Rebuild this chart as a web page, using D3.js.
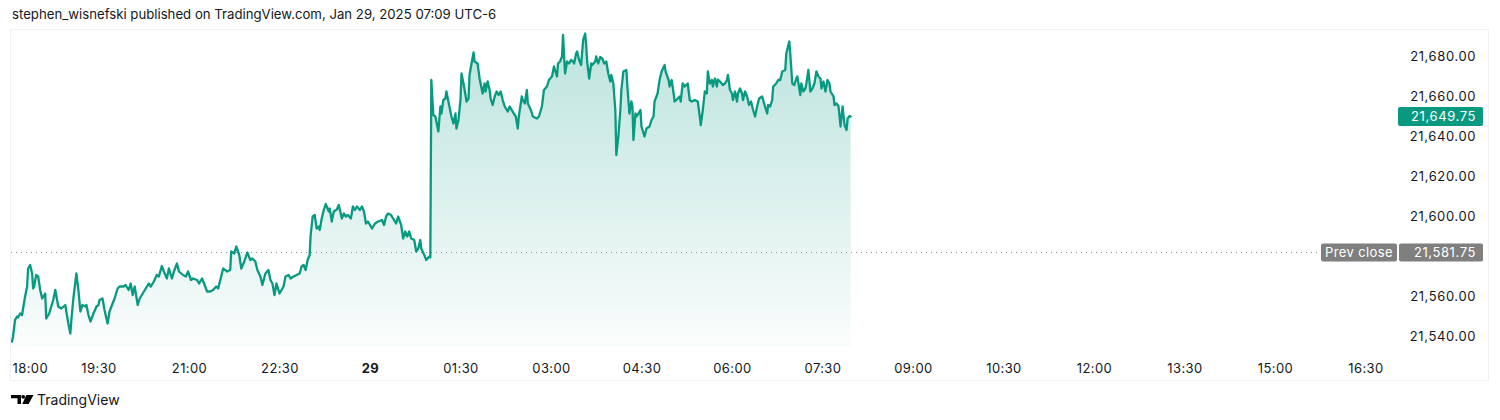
<!DOCTYPE html>
<html>
<head>
<meta charset="utf-8">
<script src="https://cdn.jsdelivr.net/npm/d3@7/dist/d3.min.js"></script>
<style>
  html, body { margin: 0; padding: 0; background: #ffffff; }
  svg { display: block; }
  text { font-family: Inter, "Noto Sans", "Liberation Sans", sans-serif; }
</style>
</head>
<body>
<svg id="chart" width="1500" height="420"></svg>
<script>
// ---- data (minutes after 18:00 session open, price) ----
const minutes = [4,5,7,9,10,12,14,15,17,19,20,22,24,25,26,28,30,32,34,37,38,41,43,45,47,50,53,57,58,60,62,63,65,68,70,72,74,77,78,80,82,85,88,90,91,94,96,99,101,104,106,109,111,115,117,120,122,124,126,129,131,134,137,140,142,145,148,150,153,155,158,160,163,165,168,170,174,177,179,182,184,188,190,193,195,198,201,204,207,209,
212,214,218,221,222,225,227,230,232,235,238,241,243,246,248,251,253,256,259,261,263,265,267,270,272,274,276,279,281,284,287,290,292,294,296,298,300,301,303,305,307,309,310,312,314,316,319,320,322,324,327,329,332,334,336,338,341,343,345,347,350,352,354,356,358,362,365,368,372,374,376,378,381,383,386,388,391,393,395,397,399,401,404,406,408,410,411,414,416,419,420,
421,423,425,428,430,431,433,435,436,439,441,443,445,446,448,450,451,453,455,456,458,459,461,463,464,467,469,470,472,474,475,477,479,480,482,484,486,488,490,492,494,497,499,501,503,505,507,508,511,512,514,516,517,520,522,526,528,531,533,536,538,541,543,544,546,547,549,551,552,554,556,558,560,562,563,565,566,568,570,572,574,575,576,578,580,581,584,585,587,589,
591,593,595,597,599,600,602,604,605,607,609,610,612,615,616,618,620,621,622,624,625,627,629,630,633,635,638,640,642,643,646,648,650,653,654,657,658,660,662,663,666,668,669,671,673,676,678,680,683,686,688,689,691,693,695,696,698,700,701,703,705,706,708,711,713,715,716,718,720,721,723,725,726,728,730,731,733,735,737,739,741,743,745,747,750,752,755,756,758,760,761,764,766,768,770,773,774,777,778,780,782,784,785,788,789,791,793,794,796,798,800,802,804,806,808,809,811,813,815,817,818,821,822,824,826,827,828,830,832,834,835,837,838];
const prices = [21537.25,21539.75,21548,21549.75,21549.25,21551.25,21550.5,21553.75,21559.75,21564.75,21573.75,21575.5,21571.25,21563.75,21564.75,21570.5,21569.75,21563,21558.75,21561.25,21548.75,21551.25,21554.75,21558,21563,21554.75,21553.75,21555.5,21552.25,21546.25,21541.25,21548,21558.75,21571.25,21563,21552.25,21555.5,21554.75,21555.5,21550.5,21547.25,21551.25,21554.75,21555.5,21558,21558.75,21553,21546.25,21552.25,21556.25,21558.75,21563.75,21564.75,21564.75,21565.5,21563,21566.25,21560.5,21564.75,21555.5,21558.75,21561.25,21563.75,21566.25,21564.75,21567.25,21570.5,21569.75,21575,21572.25,21568.75,21573.75,21568.75,21572.25,21576.25,21572.25,21570.5,21569.75,21572.25,21568,21568.75,21568,21566.25,21568.75,21566.25,21562.25,21562.25,21563,21564.75,21563.75,
21569.75,21573.75,21572.25,21573,21582.25,21581.25,21584.75,21580.5,21573.75,21577.25,21581.75,21578,21578.75,21577.25,21573,21569.75,21565.5,21571.25,21573,21568,21566.25,21560.5,21566.25,21561.25,21563,21564.75,21569.75,21570.5,21568.75,21569.75,21570.5,21571.25,21574.75,21575.5,21573,21578,21580.5,21590.5,21599.75,21600.5,21593.75,21594.75,21593,21598.75,21603,21606,21602.25,21603.75,21597.25,21602.25,21603.25,21605.5,21598.75,21601.25,21599.75,21600.5,21598.75,21604.75,21603,21604.75,21603,21604.75,21602.25,21596.25,21597.25,21593.75,21596.25,21597.25,21598,21595.5,21599.75,21601.25,21600.5,21598.75,21596.25,21599.75,21595.5,21588.75,21592.25,21589.75,21592.25,21588.75,21588,21582.25,21583.75,21588,21583.75,21580.5,21578,21579.75,21579.25,
21668,21650.5,21649.75,21642.25,21654.75,21651.25,21658,21658.75,21662.25,21654.75,21649.75,21646.25,21651.25,21643.75,21648,21658,21671.25,21666.25,21660.5,21657.25,21658.75,21670.5,21676.25,21681.75,21677.25,21676.25,21668.75,21666.25,21661.25,21666.25,21662.25,21667.25,21663,21658.75,21655.5,21659.75,21662.25,21660.5,21662.25,21658,21654.75,21652.25,21654.75,21653,21651.25,21649.75,21643.75,21649.75,21659.75,21658,21656.25,21663,21656.25,21653,21649.75,21648.75,21649.75,21654.75,21663,21664.75,21668,21669.75,21674.75,21673,21669.75,21676.25,21677.25,21679.75,21690.5,21671.25,21677.25,21676.25,21678,21677.25,21676.25,21681.25,21682.25,21678,21675.5,21688,21691.25,21685.5,21677.25,21668.75,21676.25,21675.5,21677.25,21679.75,21676.25,21679.5,
21678.75,21676.25,21677.25,21671.25,21667.25,21670.5,21666.25,21653,21630.5,21639.75,21653,21663,21672.25,21673,21664.75,21651.25,21657.25,21654.75,21638,21651.25,21649.75,21651.25,21653,21644.75,21639.75,21643.75,21644.75,21648,21649.75,21657.25,21661.25,21668,21672.25,21675.5,21672.25,21668,21664.75,21668,21661.25,21657.25,21658.75,21659.75,21657.25,21666.25,21664.75,21666.25,21658,21657.25,21658,21657.25,21649.75,21645.5,21653,21662.25,21661.25,21672.25,21666.25,21668,21664.75,21668.75,21664.75,21668.25,21667.25,21665.5,21666.25,21668,21670.5,21663,21661.25,21658,21662.25,21657.25,21661.25,21663.75,21661.25,21658,21662.25,21659.75,21655.5,21657.25,21653,21649.75,21654.75,21658.75,21659.75,21656.25,21651.25,21655.5,21654.75,21658,21664.75,21666.25,21668,21668,21672.25,21673,21681.25,21687.25,21681.25,21666.25,21665.5,21668.75,21669.75,21660.5,21666.25,21662.25,21663.75,21666.25,21673,21662.25,21663.75,21666.25,21672.25,21669.75,21668.75,21663.75,21667.25,21662.25,21668,21666.25,21662.25,21659.75,21655.5,21656.25,21654.75,21649.75,21644.75,21654.75,21645.5,21643,21648.75,21650,21649.75];

const priceTicks = [21540, 21560, 21600, 21620, 21640, 21660, 21680];
const timeTickMinutes = [0, 90, 180, 270, 360, 450, 540, 630, 720, 810, 900, 990, 1080, 1170, 1260, 1350];
const timeTickLabels = ["18:00","19:30","21:00","22:30","29","01:30","03:00","04:30","06:00","07:30","09:00","10:30","12:00","13:30","15:00","16:30"];
const sessionMinutes = [0, 1380];
const prevClose = 21581.75;
const lastPrice = 21649.75;
const headerText = "stephen_wisnefski published on TradingView.com, Jan 29, 2025 07:09 UTC-6";

// ---- layout ----
const svg = d3.select("#chart");
const GREEN = "#089981";
const TEXT = "#131722";
const paneLeft = 8, paneRight = 1395.6, paneBottom = 347;
const LS = "0.6px";

const x = d3.scaleLinear().domain(sessionMinutes).range([paneLeft, paneRight]);
const y = d3.scaleLinear().domain([21540, 21680]).range([336, 56]);

const data = minutes.map((m, i) => ({ m, p: prices[i] }));

// header
svg.append("text").attr("x", 12).attr("y", 19)
  .attr("font-size", 13.2).attr("fill", TEXT).text(headerText);

// frame
svg.append("rect").attr("x", 10.5).attr("y", 29.5).attr("width", 1478).attr("height", 351)
  .attr("fill", "none").attr("stroke", "#eef1f6").attr("stroke-width", 1);

// gradient
const defs = svg.append("defs");
const grad = defs.append("linearGradient").attr("id", "areaGrad")
  .attr("gradientUnits", "userSpaceOnUse")
  .attr("x1", 0).attr("x2", 0).attr("y1", y(d3.max(prices))).attr("y2", paneBottom);
grad.append("stop").attr("offset", "0%").attr("stop-color", GREEN).attr("stop-opacity", 0.27);
grad.append("stop").attr("offset", "100%").attr("stop-color", GREEN).attr("stop-opacity", 0.02);

// area
const area = d3.area().x(d => x(d.m)).y0(paneBottom).y1(d => y(d.p));
svg.append("path").datum(data).attr("d", area).attr("fill", "url(#areaGrad)");

// prev close dotted line
svg.append("line").attr("x1", 11).attr("x2", 1320).attr("y1", Math.round(y(prevClose)) + 0.5).attr("y2", Math.round(y(prevClose)) + 0.5)
  .attr("stroke", "#8a8e99").attr("stroke-width", 1).attr("stroke-dasharray", "1,4");

// line
const line = d3.line().x(d => x(d.m)).y(d => y(d.p));
svg.append("path").datum(data).attr("d", line)
  .attr("fill", "none").attr("stroke", GREEN).attr("stroke-width", 2.3)
  .attr("stroke-linejoin", "round").attr("stroke-linecap", "round");

// price axis
const yAxis = d3.axisRight(y).tickValues(priceTicks).tickSize(0).tickPadding(0)
  .tickFormat(d3.format(",.2f"));
const yg = svg.append("g").attr("transform", "translate(1476,0)").call(yAxis);
yg.select(".domain").remove();
yg.selectAll("text").attr("text-anchor", "end").attr("font-size", 13)
  .attr("letter-spacing", LS)
  .attr("fill", TEXT).attr("font-family", "Inter, sans-serif").attr("dy", "0.35em").attr("x", 0);

// current price label
const yl = y(lastPrice);
svg.append("rect").attr("x", 1398).attr("y", yl - 9.5).attr("width", 85).attr("height", 19)
  .attr("rx", 2).attr("fill", GREEN);
svg.append("text").attr("x", 1476).attr("y", yl).attr("dy", "0.35em").attr("text-anchor", "end")
  .attr("letter-spacing", LS)
  .attr("font-size", 13).attr("fill", "#ffffff").text(d3.format(",.2f")(lastPrice));

// prev close labels
const yp = y(prevClose);
svg.append("rect").attr("x", 1321).attr("y", yp - 9).attr("width", 76).attr("height", 18)
  .attr("rx", 2).attr("fill", "#7f7f7f");
svg.append("text").attr("x", 1359).attr("y", yp).attr("dy", "0.35em").attr("text-anchor", "middle")
  .attr("letter-spacing", "0.4px")
  .attr("font-size", 13).attr("fill", "#ffffff").text("Prev close");
svg.append("rect").attr("x", 1399).attr("y", yp - 9).attr("width", 84).attr("height", 18)
  .attr("rx", 2).attr("fill", "#7f7f7f");
svg.append("text").attr("x", 1476).attr("y", yp).attr("dy", "0.35em").attr("text-anchor", "end")
  .attr("letter-spacing", LS)
  .attr("font-size", 13).attr("fill", "#ffffff").text(d3.format(",.2f")(prevClose));

// time axis
const xAxis = d3.axisBottom(x).tickValues(timeTickMinutes).tickSize(0).tickPadding(0)
  .tickFormat((d, i) => timeTickLabels[i]);
const xg = svg.append("g").attr("transform", "translate(0,368)").call(xAxis);
xg.select(".domain").remove();
xg.selectAll("text").attr("font-size", 13).attr("fill", TEXT).attr("dy", "0.35em")
  .attr("letter-spacing", "0.4px")
  .attr("font-family", "Inter, sans-serif")
  .attr("font-weight", (d, i) => timeTickLabels[i] === "29" ? 700 : 400);
xg.selectAll(".tick").filter((d, i) => i === 0).select("text")
  .attr("text-anchor", "start").attr("x", 12 - paneLeft);

// footer logo
const logo = svg.append("g").attr("fill", "#000000");
logo.append("path").attr("d", "M11,395 H21 V404 H17.5 V398.3 H11 Z");
logo.append("circle").attr("cx", 23.2).attr("cy", 396.8).attr("r", 1.9);
logo.append("path").attr("d", "M26.3,395 H33.5 L28.6,404 H22.3 Z");
svg.append("text").attr("x", 37).attr("y", 400).attr("dy", "0.35em")
  .attr("font-size", 14).attr("fill", TEXT).text("TradingView");
</script>
</body>
</html>
